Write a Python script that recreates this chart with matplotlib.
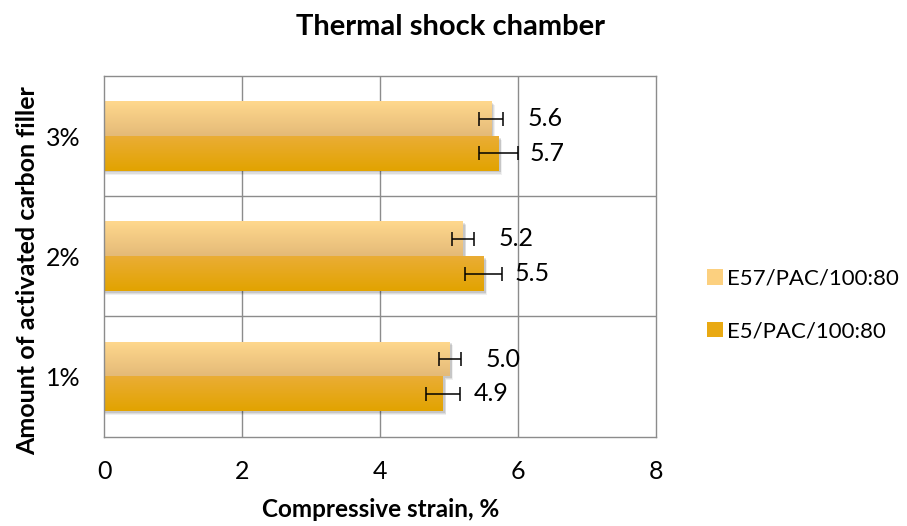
import numpy as np
import matplotlib
matplotlib.use("Agg")
import matplotlib.pyplot as plt
from matplotlib.patches import Patch, Rectangle
from matplotlib.colors import to_rgb

plt.rcParams['font.family'] = ['Lato', 'DejaVu Sans']

categories = ["1%", "2%", "3%"]
series_names = ["E57/PAC/100:80", "E5/PAC/100:80"]
e57_values = [5.01, 5.20, 5.61]
e57_errors = [0.16, 0.16, 0.17]
e5_values = [4.91, 5.50, 5.72]
e5_errors = [0.25, 0.27, 0.28]
e57_labels = ["5.0", "5.2", "5.6"]
e5_labels = ["4.9", "5.5", "5.7"]
x_ticks = [0, 2, 4, 6, 8]

fig = plt.figure(figsize=(9.07, 5.26), dpi=100)
ax = fig.add_axes([0.1147, 0.170, 0.6086, 0.6856])

y = np.arange(len(categories))
h = 0.29
off = 0.145

grad_e57 = ("#FFD88D", "#E4BA78")
grad_e5 = ("#EAAD35", "#E2A300")


def gradient_fill(ax, bars, top, bottom):
    c_top = np.array(to_rgb(top))
    c_bot = np.array(to_rgb(bottom))
    t = np.linspace(0, 1, 64)[:, None]
    arr = (c_top[None, :] * (1 - t) + c_bot[None, :] * t)[:, None, :]
    for b in bars:
        x0, y0 = b.get_x(), b.get_y()
        w, hh = b.get_width(), b.get_height()
        for k, a in enumerate([0.10, 0.08, 0.06]):
            sh = Rectangle((x0, y0 - 0.012 - k * 0.01), w + 0.03 + k * 0.01, hh,
                           facecolor="black", alpha=a, edgecolor="none", zorder=1.5)
            ax.add_patch(sh)
        im = ax.imshow(arr, extent=[x0, x0 + w, y0, y0 + hh], origin="upper",
                       aspect="auto", zorder=2.5, interpolation="bilinear")
        im.set_clip_path(b)


b1 = ax.barh(y + off, e57_values, height=h, color=grad_e57[0], zorder=2,
             label=series_names[0])
b2 = ax.barh(y - off, e5_values, height=h, color=grad_e5[0], zorder=2,
             label=series_names[1])
gradient_fill(ax, b1, *grad_e57)
gradient_fill(ax, b2, *grad_e5)

ax.errorbar(e57_values, y + off, xerr=e57_errors, fmt="none", ecolor="black",
            elinewidth=1.1, capsize=5, capthick=1.1, zorder=4)
ax.errorbar(e5_values, y - off, xerr=e5_errors, fmt="none", ecolor="black",
            elinewidth=1.1, capsize=5, capthick=1.1, zorder=4)

for v, yy, lab in zip(e57_values, y + off, e57_labels):
    ax.annotate(lab, (v, yy), xytext=(36, 0), textcoords="offset pixels",
                ha="left", va="center", fontsize=18, zorder=5)
for v, yy, lab in zip(e5_values, y - off, e5_labels):
    ax.annotate(lab, (v, yy), xytext=(31, 0), textcoords="offset pixels",
                ha="left", va="center", fontsize=18, zorder=5)

ax.set_xlim(0, 8)
ax.set_ylim(-0.5, 2.5)
ax.set_xticks(x_ticks)
ax.set_xticklabels([str(t) for t in x_ticks], fontsize=18)
ax.set_yticks(y)
ax.set_yticklabels(categories, fontsize=18)
ax.tick_params(axis="both", length=0)
ax.tick_params(axis="x", pad=17)
ax.tick_params(axis="y", pad=17)

for gx in x_ticks[1:-1]:
    ax.axvline(gx, color="#8c8c8c", lw=1, zorder=0)
for gy in [0.5, 1.5]:
    ax.axhline(gy, color="#8c8c8c", lw=1, zorder=0)
for s in ax.spines.values():
    s.set_color("#8c8c8c")
    s.set_linewidth(1)

fig.text(0.42, 0.032, "Compressive strain, %", ha="center", va="center",
         fontsize=17.5, fontweight="bold")
fig.text(0.030, 0.485, "Amount of activated carbon filler", ha="center",
         va="center", rotation=90, fontsize=18, fontweight="bold")
fig.text(0.497, 0.949, "Thermal shock chamber", ha="center", va="center",
         fontsize=21, fontweight="bold")

handles = [Patch(facecolor="#FCD07F", edgecolor="none"),
           Patch(facecolor="#E9A912", edgecolor="none")]
fig.legend(handles, series_names, loc="center left",
           bbox_to_anchor=(0.7795, 0.42), frameon=False, fontsize=16,
           handlelength=0.7, handleheight=0.7, handletextpad=0.2,
           labelspacing=1.45, borderpad=0, borderaxespad=0)

fig.savefig("out.png", dpi=100)
